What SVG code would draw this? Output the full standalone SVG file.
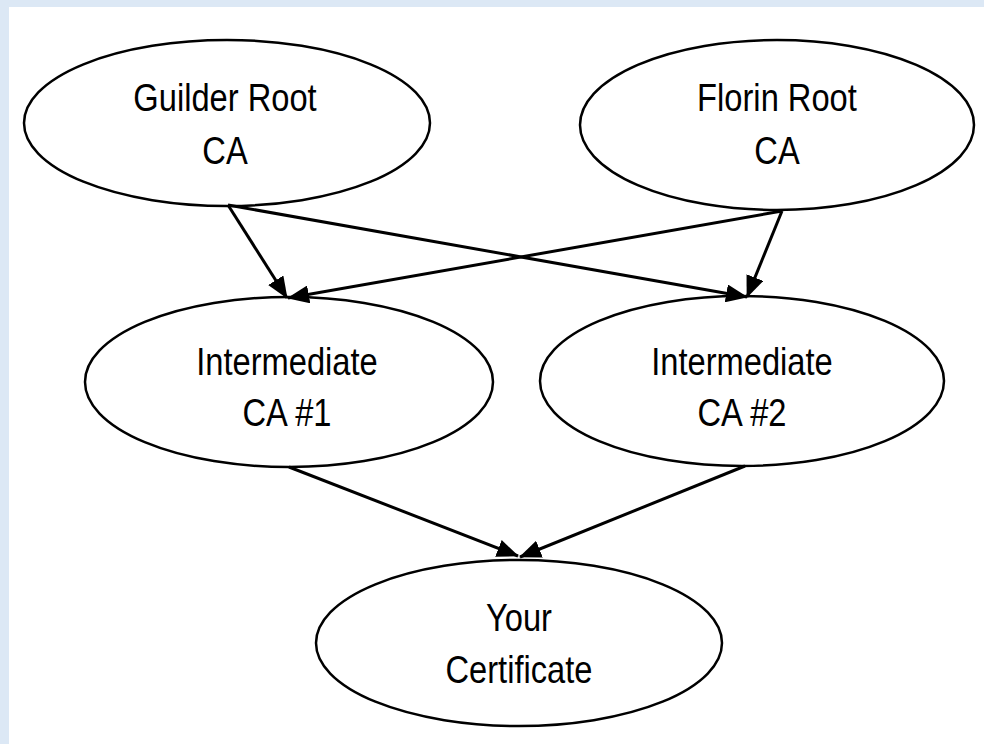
<svg xmlns="http://www.w3.org/2000/svg" width="984" height="744" viewBox="0 0 984 744">
  <style>
    .node ellipse { fill: #ffffff; stroke: #000000; stroke-width: 2.5; }
    .node text { font-family: "Liberation Sans", "DejaVu Sans Condensed", sans-serif; font-size: 38px; fill: #000000; text-anchor: middle; }
    .edge { stroke: #000000; stroke-width: 3; fill: none; marker-end: url(#arrow); }
  </style>
  <defs>
    <marker id="arrow" viewBox="0 0 22 18" refX="21" refY="9" markerWidth="22" markerHeight="18" markerUnits="userSpaceOnUse" orient="auto">
      <path d="M0,0 L22,9 L0,18 Z" fill="#000000"/>
    </marker>
  </defs>

  <!-- frame -->
  <rect x="0" y="0" width="984" height="744" fill="#dce8f5"/>
  <rect x="9" y="7" width="975" height="737" fill="#ffffff"/>

  <!-- labels are narrowed horizontally to a condensed width -->
  <g id="n-guilder" class="node">
    <ellipse cx="227" cy="123" rx="203" ry="83"/>
    <text transform="translate(225,111) scale(0.86,1)">Guilder Root</text>
    <text transform="translate(225,164) scale(0.86,1)">CA</text>
  </g>

  <g id="n-florin" class="node">
    <ellipse cx="777" cy="125" rx="197" ry="85"/>
    <text transform="translate(777,111) scale(0.86,1)">Florin Root</text>
    <text transform="translate(777,164) scale(0.86,1)">CA</text>
  </g>

  <g id="n-int1" class="node">
    <ellipse cx="289" cy="382" rx="204" ry="85"/>
    <text transform="translate(287,375) scale(0.86,1)">Intermediate</text>
    <text transform="translate(287,426) scale(0.86,1)">CA #1</text>
  </g>

  <g id="n-int2" class="node">
    <ellipse cx="742" cy="381" rx="202" ry="85"/>
    <text transform="translate(742,375) scale(0.86,1)">Intermediate</text>
    <text transform="translate(742,426) scale(0.86,1)">CA #2</text>
  </g>

  <g id="n-cert" class="node">
    <ellipse cx="519" cy="643" rx="203" ry="83"/>
    <text transform="translate(519,631) scale(0.86,1)">Your</text>
    <text transform="translate(519,683) scale(0.86,1)">Certificate</text>
  </g>

  <g id="edges">
    <line class="edge" x1="228" y1="205" x2="287" y2="298"/>
    <line class="edge" x1="228" y1="205" x2="747" y2="297"/>
    <line class="edge" x1="782" y1="211" x2="288" y2="298"/>
    <line class="edge" x1="782" y1="211" x2="747" y2="297"/>
    <line class="edge" x1="289" y1="467" x2="518" y2="556"/>
    <line class="edge" x1="745" y1="466" x2="520" y2="557"/>
  </g>
</svg>
